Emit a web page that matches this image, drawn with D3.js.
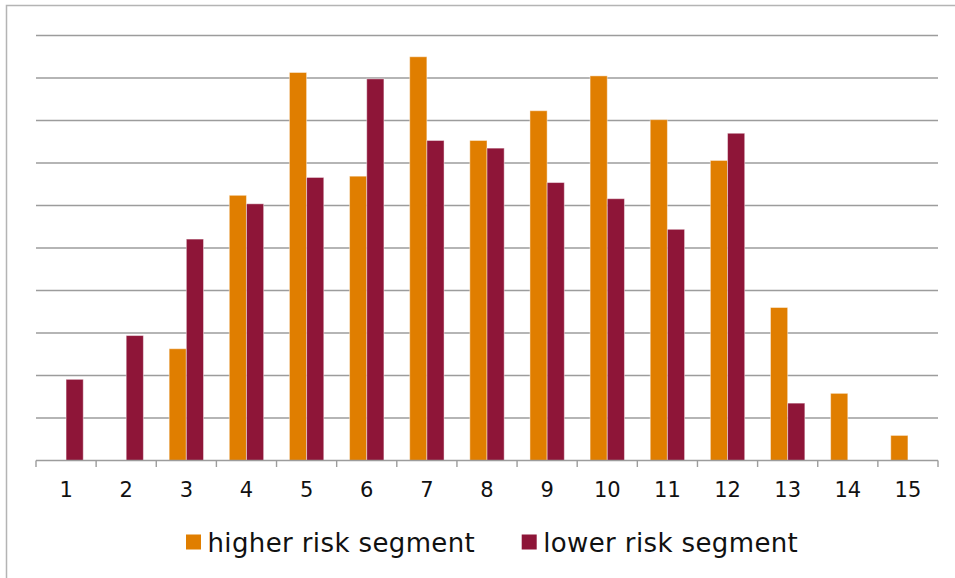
<!DOCTYPE html>
<html>
<head>
<meta charset="utf-8">
<script src="https://cdn.jsdelivr.net/npm/d3@7"></script>
<style>
  html, body { margin: 0; padding: 0; background: #fff; }
  svg { display: block; }
  text { font-family: "DejaVu Sans", Verdana, sans-serif; fill: #111; }
</style>
</head>
<body>
<svg id="chart" width="955" height="578"></svg>
<script>
// Segment numbers along the x axis
const categories = ["1","2","3","4","5","6","7","8","9","10","11","12","13","14","15"];

// Share per segment (units of one gridline step)
const higherRisk = [0, 0, 2.63, 6.24, 9.13, 6.69, 9.50, 7.53, 8.23, 9.05, 8.02, 7.06, 3.60, 1.58, 0.59];
const lowerRisk  = [1.91, 2.94, 5.21, 6.04, 6.66, 8.98, 7.53, 7.35, 6.54, 6.16, 5.44, 7.70, 1.35, 0, 0];

const seriesNames = ["higher risk segment", "lower risk segment"];
const seriesColors = ["#E07E00", "#8E1538"];
const gridTicks = [1, 2, 3, 4, 5, 6, 7, 8, 9, 10];

const svg = d3.select("#chart");

// Outer chart frame
svg.append("path")
  .attr("d", "M6.5,600 L6.5,5.5 L960,5.5")
  .attr("fill", "none")
  .attr("stroke", "#b4b4b4")
  .attr("stroke-width", 1.5);

const plot = { left: 36, right: 938, top: 35.5, bottom: 460.5 };

const x = d3.scaleBand()
  .domain(categories)
  .range([plot.left, plot.right])
  .paddingInner(0)
  .paddingOuter(0);

const y = d3.scaleLinear()
  .domain([0, 10])
  .range([plot.bottom, plot.top]);

// Horizontal gridlines
svg.append("g")
  .selectAll("line")
  .data(gridTicks)
  .join("line")
  .attr("x1", plot.left)
  .attr("x2", plot.right)
  .attr("y1", d => y(d))
  .attr("y2", d => y(d))
  .attr("stroke", "#9c9c9c")
  .attr("stroke-width", 1.4);

// Bars: two series side by side, gap equal to 1.5 bar widths
const barW = x.bandwidth() / 3.5;
const series = [higherRisk, lowerRisk];
series.forEach((vals, si) => {
  svg.append("g")
    .selectAll("rect")
    .data(categories.map((c, i) => ({ c, v: vals[i] })).filter(d => d.v > 0))
    .join("rect")
    .attr("x", d => x(d.c) + x.bandwidth() / 2 - barW + si * barW)
    .attr("width", barW)
    .attr("y", d => y(d.v))
    .attr("height", d => y(0) - y(d.v))
    .attr("fill", seriesColors[si])
    .attr("stroke", "rgba(255,255,255,0.45)")
    .attr("stroke-width", 1);
});

// Category axis with boundary ticks
const axisG = svg.append("g");
axisG.append("line")
  .attr("x1", plot.left).attr("x2", plot.right)
  .attr("y1", y(0)).attr("y2", y(0))
  .attr("stroke", "#9c9c9c").attr("stroke-width", 1.4);

const boundaries = categories.map(c => x(c)).concat([x(categories[categories.length - 1]) + x.bandwidth()]);
axisG.selectAll("line.tick")
  .data(boundaries)
  .join("line")
  .attr("class", "tick")
  .attr("x1", d => d).attr("x2", d => d)
  .attr("y1", y(0)).attr("y2", y(0) + 6.5)
  .attr("stroke", "#9c9c9c").attr("stroke-width", 1.4);

axisG.selectAll("text")
  .data(categories)
  .join("text")
  .attr("x", d => x(d) + x.bandwidth() / 2)
  .attr("y", 496.7)
  .attr("text-anchor", "middle")
  .attr("font-size", "21px")
  .text(d => d);

// Legend
const legendX = [186, 521.7];
const legend = svg.append("g");
seriesNames.forEach((name, i) => {
  legend.append("rect")
    .attr("x", legendX[i])
    .attr("y", 534.5)
    .attr("width", 15)
    .attr("height", 15)
    .attr("fill", seriesColors[i]);
  legend.append("text")
    .attr("x", legendX[i] + 21.5)
    .attr("y", 551.7)
    .attr("font-size", "26px")
    .attr("letter-spacing", "0.38px")
    .text(name);
});
</script>
</body>
</html>
